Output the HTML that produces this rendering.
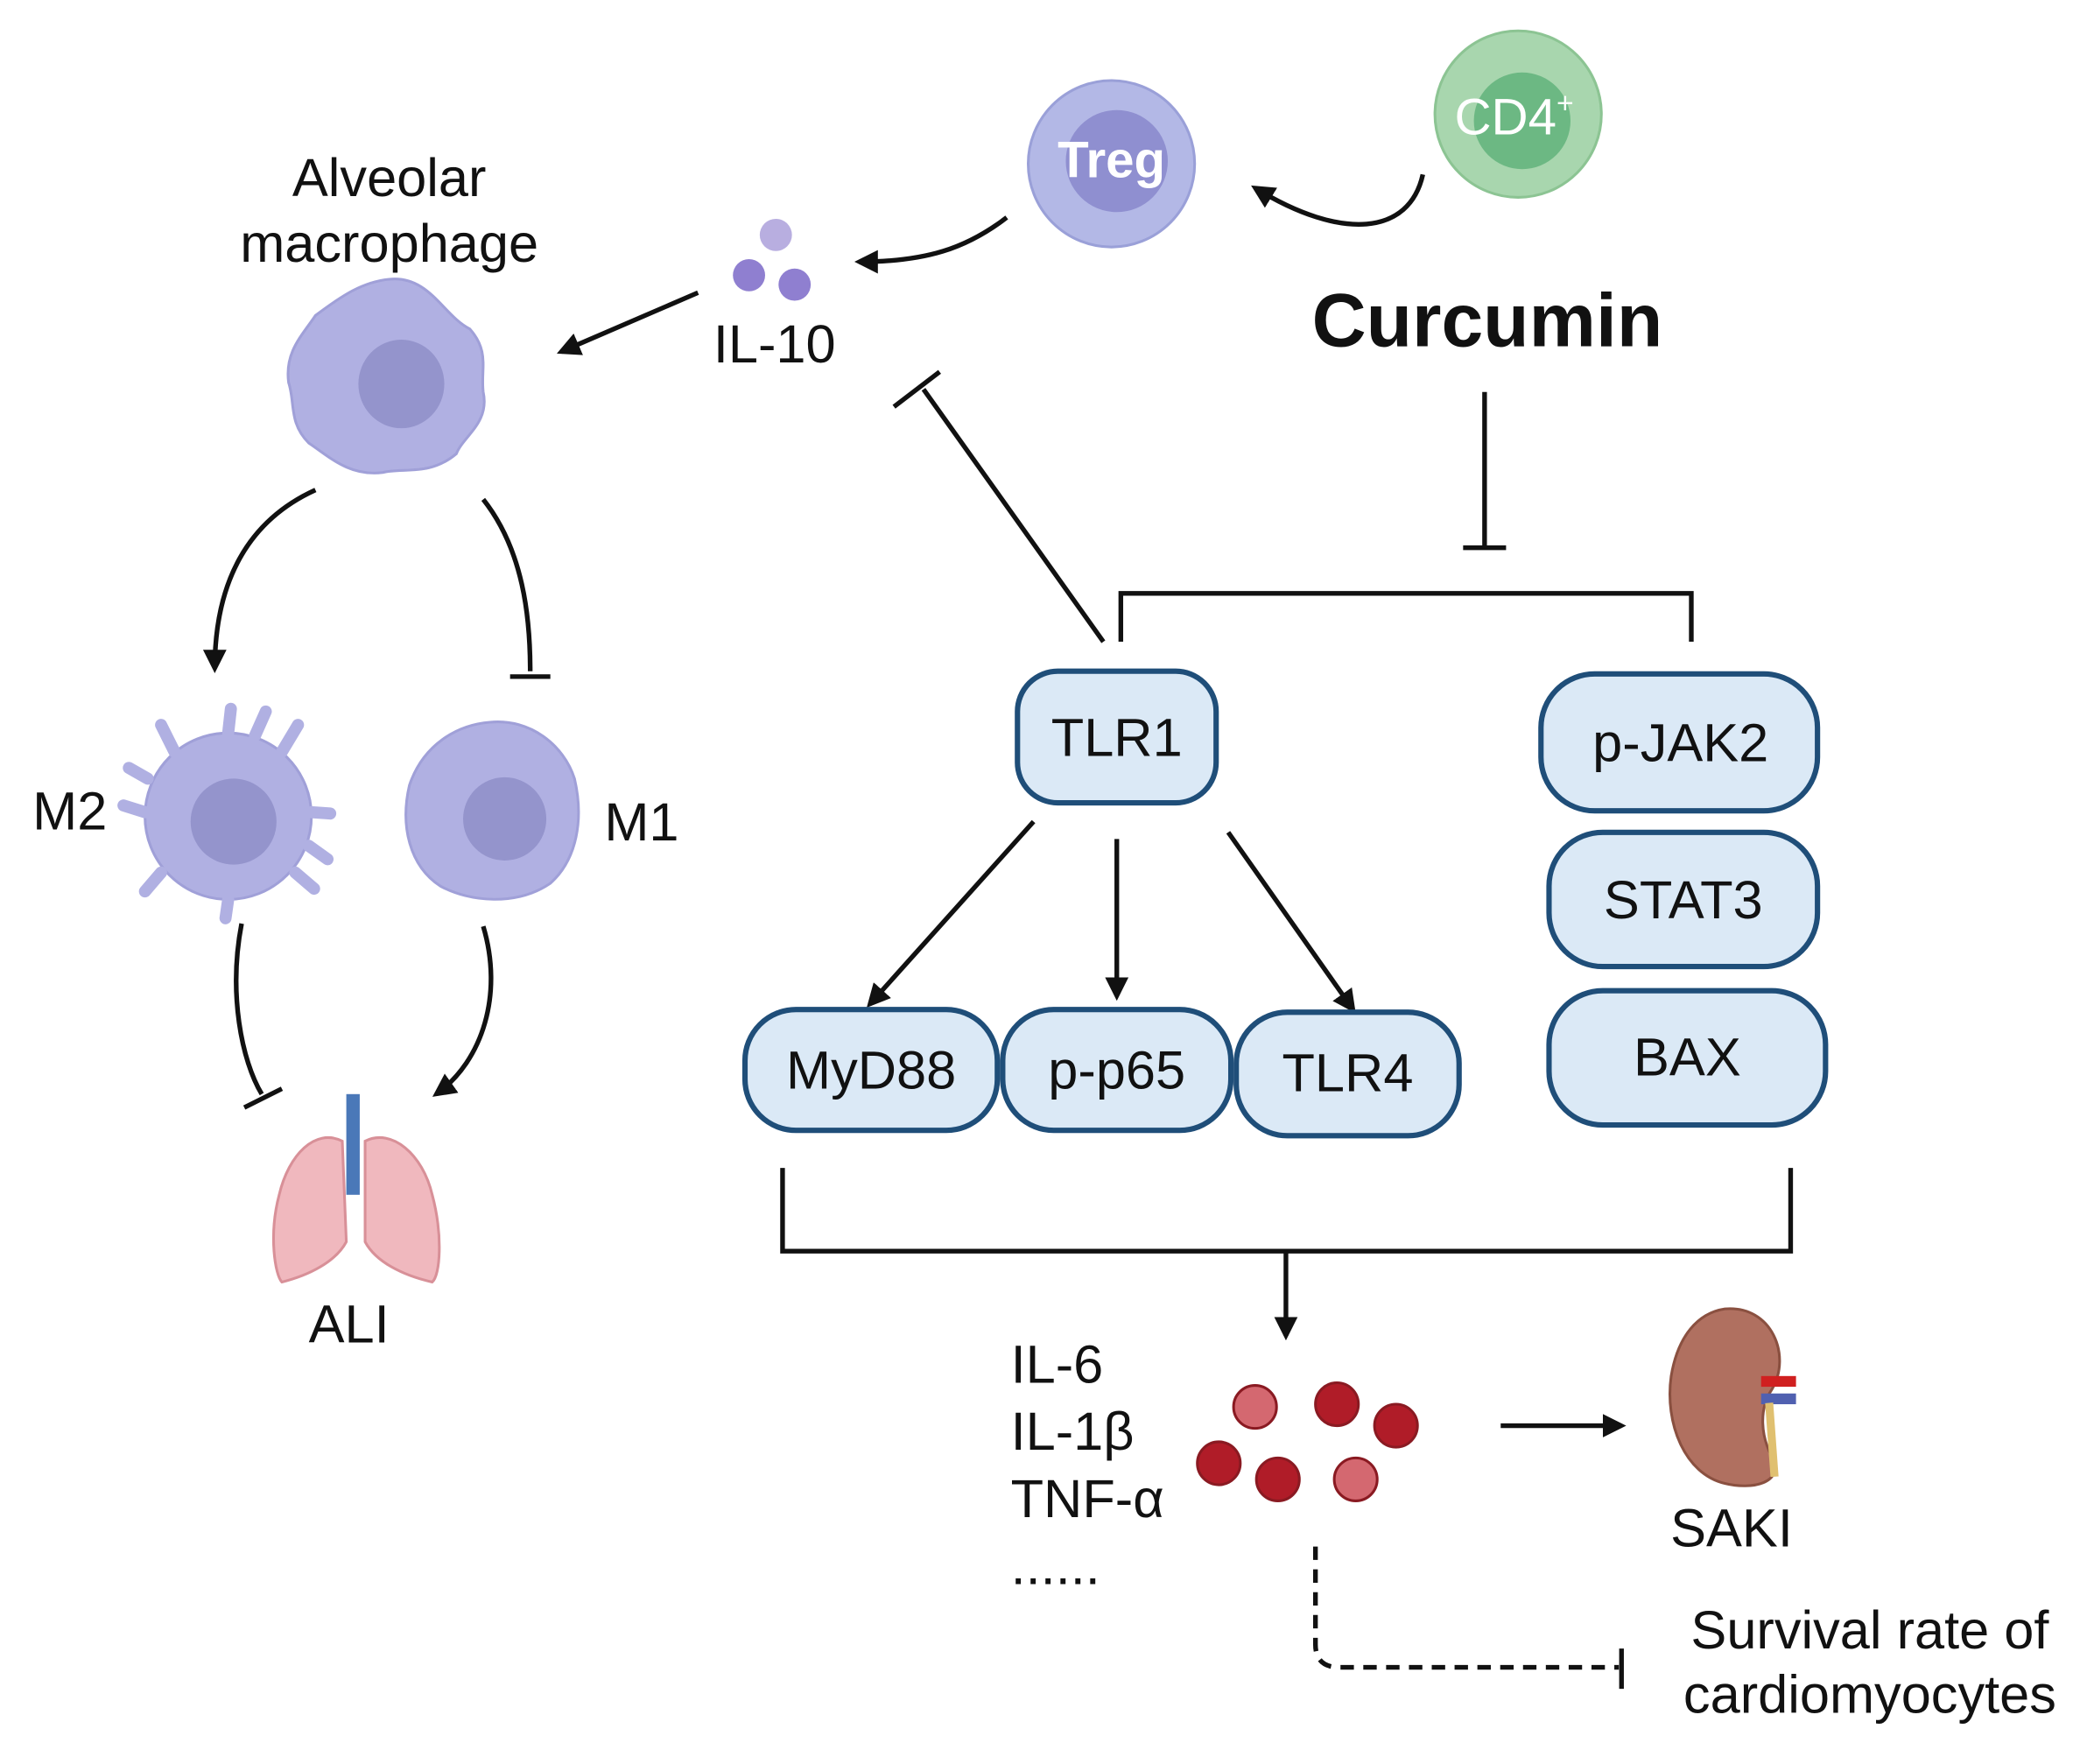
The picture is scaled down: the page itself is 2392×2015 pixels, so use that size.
<!DOCTYPE html>
<html><head><meta charset="utf-8"><style>
html,body{margin:0;padding:0;background:#fff;}
svg{display:block;}
text{font-family:"Liberation Sans",sans-serif;fill:#111;}
</style></head><body>
<svg width="2392" height="2015" viewBox="0 0 1560 1314" preserveAspectRatio="none" xmlns="http://www.w3.org/2000/svg">
<defs>
<marker id="ar" viewBox="0 0 10 10" refX="8" refY="5" markerWidth="5" markerHeight="5" orient="auto"><path d="M0,0 L10,5 L0,10 Z" fill="#111"/></marker>
<radialGradient id="mac" cx="0.5" cy="0.5" r="0.5"><stop offset="0" stop-color="#b4b4e2"/><stop offset="1" stop-color="#aeaee0"/></radialGradient>
</defs>
<g stroke="#111" stroke-width="3.5" fill="none">
<!-- top arrows -->
<path d="M1060,130 C1050,175 1000,180 935,140" marker-end="url(#ar)"/>
<path d="M750,162 C720,185 690,195 640,195" marker-end="url(#ar)"/>
<path d="M520,218 L418,262" marker-end="url(#ar)"/>
<!-- IL-10 inhibition from TLR1 -->
<path d="M822,478 L688,290"/><path d="M666,303 L700,277"/>
<!-- curcumin inhibit -->
<path d="M1106,292 L1106,408"/><path d="M1090,408 L1122,408"/>
<path d="M835,478 L835,442 L1260,442 L1260,478"/>
<!-- macrophage arrows -->
<path d="M235,365 C180,390 160,440 160,498" marker-end="url(#ar)"/>
<path d="M360,372 C390,410 395,460 395,500"/><path d="M380,504 L410,504"/>
<path d="M180,688 C170,740 180,790 195,815"/><path d="M182,825 L210,811"/>
<path d="M360,690 C375,740 360,790 325,815" marker-end="url(#ar)"/>
<!-- TLR1 arrows -->
<path d="M770,612 L648,748" marker-end="url(#ar)"/>
<path d="M832,625 L832,742" marker-end="url(#ar)"/>
<path d="M915,620 L1008,752" marker-end="url(#ar)"/>
<!-- bracket bottom -->
<path d="M583,870 L583,932 L1334,932 L1334,870"/>
<path d="M958,932 L958,995" marker-end="url(#ar)"/>
<path d="M1118,1062 L1208,1062" marker-end="url(#ar)"/>
<path d="M980,1152 L980,1225 Q980,1242 998,1242 L1206,1242" stroke-dasharray="10,7"/>
<path d="M1208,1228 L1208,1258"/>
</g>
<!-- CD4 -->
<circle cx="1131" cy="85" r="62" fill="#a8d6ae" stroke="#8cc493" stroke-width="2"/>
<circle cx="1134" cy="90" r="36" fill="#6cb883"/>
<text x="1128" y="100" font-size="38" text-anchor="middle" fill="#fff" style="fill:#fff">CD4<tspan font-size="22" dy="-16" style="fill:#fff">+</tspan></text>
<!-- Treg -->
<circle cx="828" cy="122" r="62" fill="#b3b8e6" stroke="#9aa0d8" stroke-width="2"/>
<circle cx="832" cy="120" r="38" fill="#8f8fd0"/>
<text x="828" y="132" font-size="38" font-weight="bold" text-anchor="middle" style="fill:#fff">Treg</text>
<!-- IL-10 dots -->
<circle cx="578" cy="175" r="12" fill="#b8aee0"/>
<circle cx="558" cy="205" r="12" fill="#8f7fd0"/>
<circle cx="592" cy="212" r="12" fill="#8f7fd0"/>
<text x="577" y="270" font-size="40" text-anchor="middle">IL-10</text>
<text x="1108" y="258" font-size="56" font-weight="bold" text-anchor="middle">Curcumin</text>
<text x="290" y="146" font-size="40" text-anchor="middle">Alveolar</text>
<text x="290" y="195" font-size="40" text-anchor="middle">macrophage</text>
<!-- alveolar macrophage -->
<path d="M290,208 C320,205 330,235 350,245 C365,262 358,275 360,292 C365,315 345,325 340,338 C320,355 300,348 285,352 C260,355 245,340 230,330 C215,315 220,300 215,285 C212,262 225,250 235,235 C255,220 270,210 290,208 Z" fill="#b0b0e2" stroke="#a0a0d8" stroke-width="2"/>
<ellipse cx="299" cy="286" rx="32" ry="33" fill="#9494cc"/>
<!-- M2 -->
<circle cx="170" cy="608" r="62" fill="#b0b0e2" stroke="#a0a0d8" stroke-width="2"/>
<g stroke="#b0b0e2" stroke-width="9" stroke-linecap="round">
<path d="M170,546 L172,528"/><path d="M130,560 L120,540"/><path d="M210,560 L222,540"/><path d="M232,605 L246,606"/><path d="M108,605 L92,600"/><path d="M120,650 L108,664"/><path d="M220,650 L234,662"/><path d="M170,670 L168,684"/><path d="M190,548 L198,530"/><path d="M110,580 L96,572"/><path d="M230,630 L244,640"/>
</g>
<circle cx="174" cy="612" r="32" fill="#9494cc"/>
<text x="52" y="618" font-size="40" text-anchor="middle">M2</text>
<!-- M1 -->
<path d="M365,538 C395,535 420,555 428,580 C435,610 430,640 410,658 C385,675 350,672 328,660 C305,645 298,615 305,585 C315,555 340,540 365,538 Z" fill="#b0b0e2" stroke="#a0a0d8" stroke-width="2"/>
<circle cx="376" cy="610" r="31" fill="#9494cc"/>
<text x="478" y="626" font-size="40" text-anchor="middle">M1</text>
<!-- lungs -->
<rect x="258" y="815" width="10" height="75" fill="#4a78b8"/>
<path d="M255,850 C235,840 215,860 208,890 C200,920 205,950 210,955 C230,950 250,940 258,925 Z" fill="#f0b8be" stroke="#d89098" stroke-width="2"/>
<path d="M272,850 C292,840 315,860 322,890 C330,920 328,950 322,955 C300,950 280,940 272,925 Z" fill="#f0b8be" stroke="#d89098" stroke-width="2"/>
<text x="260" y="1000" font-size="40" text-anchor="middle">ALI</text>
<!-- boxes -->
<g fill="#dbe9f6" stroke="#1f4e79" stroke-width="4">
<rect x="758" y="500" width="148" height="98" rx="30"/>
<rect x="1148" y="502" width="206" height="102" rx="40"/>
<rect x="1154" y="620" width="200" height="100" rx="40"/>
<rect x="1154" y="738" width="206" height="100" rx="40"/>
<rect x="555" y="752" width="188" height="90" rx="38"/>
<rect x="747" y="752" width="170" height="90" rx="38"/>
<rect x="921" y="754" width="166" height="92" rx="38"/>
</g>
<g font-size="40" text-anchor="middle">
<text x="832" y="563">TLR1</text>
<text x="1252" y="567">p-JAK2</text>
<text x="1254" y="684">STAT3</text>
<text x="1257" y="801">BAX</text>
<text x="649" y="811">MyD88</text>
<text x="832" y="811">p-p65</text>
<text x="1004" y="813">TLR4</text>
</g>
<!-- cytokines -->
<g font-size="40">
<text x="753" y="1030">IL-6</text>
<text x="753" y="1080">IL-1β</text>
<text x="753" y="1130">TNF-α</text>
<text x="753" y="1180">......</text>
</g>
<g stroke="#8a1a22" stroke-width="2">
<circle cx="935" cy="1048" r="16" fill="#d46870"/>
<circle cx="996" cy="1046" r="16" fill="#b01c28"/>
<circle cx="1040" cy="1062" r="16" fill="#b01c28"/>
<circle cx="908" cy="1090" r="16" fill="#b01c28"/>
<circle cx="952" cy="1102" r="16" fill="#b01c28"/>
<circle cx="1010" cy="1102" r="16" fill="#d46870"/>
</g>
<!-- kidney -->
<path d="M1285,975 C1320,972 1335,1010 1320,1035 C1310,1050 1312,1070 1320,1085 C1330,1105 1305,1110 1285,1105 C1255,1098 1240,1060 1245,1025 C1250,995 1265,978 1285,975 Z" fill="#b07060" stroke="#8a5040" stroke-width="2"/>
<rect x="1312" y="1025" width="26" height="8" fill="#d02020"/>
<rect x="1312" y="1038" width="26" height="8" fill="#5060b0"/>
<path d="M1318,1045 L1322,1100" stroke="#e0c070" stroke-width="6"/>
<text x="1290" y="1152" font-size="40" text-anchor="middle">SAKI</text>
<text x="1393" y="1228" font-size="40" text-anchor="middle">Survival rate of</text>
<text x="1393" y="1276" font-size="40" text-anchor="middle">cardiomyocytes</text>
</svg>
</body></html>
